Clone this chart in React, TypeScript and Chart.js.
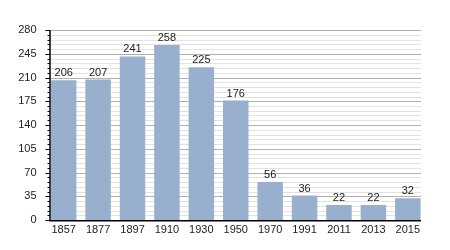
import React, { useEffect, useRef } from "react";
import { Chart, registerables } from "chart.js";

Chart.register(...registerables);

const years = ["1857", "1877", "1897", "1910", "1930", "1950", "1970", "1991", "2011", "2013", "2015"];
const population = [206, 207, 241, 258, 225, 176, 56, 36, 22, 22, 32];
const yMax = 280;
const majorStep = 35;
const minorStep = 7;

const FONT = "'Liberation Sans', Arial, sans-serif";

const gridPlugin = {
  id: "customGrid",
  beforeDatasetsDraw(chart: any) {
    const ctx = chart.ctx;
    const y = chart.scales.y;
    const left = 50;
    const right = 421;
    ctx.save();
    for (let v = 0; v <= yMax; v += minorStep) {
      const py = Math.round(y.getPixelForValue(v)) + 0.5;
      const major = v % majorStep === 0;
      ctx.strokeStyle = major ? "#b0b0b0" : "#e2e2e2";
      ctx.lineWidth = 1;
      ctx.beginPath();
      ctx.moveTo(left, py);
      ctx.lineTo(right, py);
      ctx.stroke();
      ctx.strokeStyle = "#000";
      ctx.beginPath();
      ctx.moveTo(major ? 45.5 : 47.5, py);
      ctx.lineTo(left, py);
      ctx.stroke();
    }
    ctx.restore();
  },
  afterDatasetsDraw(chart: any) {
    const ctx = chart.ctx;
    const y = chart.scales.y;
    const top = y.getPixelForValue(yMax);
    const bottom = y.getPixelForValue(0);
    ctx.save();
    ctx.strokeStyle = "#000";
    ctx.lineWidth = 1.5;
    ctx.beginPath();
    ctx.moveTo(50, top);
    ctx.lineTo(50, bottom + 0.75);
    ctx.lineTo(421, bottom + 0.75);
    ctx.stroke();
    // value labels
    const meta = chart.getDatasetMeta(0);
    ctx.fillStyle = "#222";
    ctx.font = `11px ${FONT}`;
    ctx.textAlign = "center";
    ctx.textBaseline = "alphabetic";
    meta.data.forEach((bar: any, i: number) => {
      ctx.fillText(String(population[i]), bar.x, bar.y - 4);
    });
    ctx.restore();
  },
};

export default function App() {
  const ref = useRef<HTMLCanvasElement>(null);
  useEffect(() => {
    if (!ref.current) return;
    const chart = new Chart(ref.current, {
      type: "bar",
      data: {
        labels: years,
        datasets: [
          {
            data: population,
            backgroundColor: "#98b0cd",
            borderWidth: 0,
            barPercentage: 0.74,
            categoryPercentage: 1,
          },
        ],
      },
      options: {
        animation: false,
        responsive: false,
        maintainAspectRatio: false,
        layout: { padding: { top: 30, right: 25, left: 0, bottom: 0 } },
        plugins: { legend: { display: false }, tooltip: { enabled: false } },
        scales: {
          x: {
            grid: { display: false, drawTicks: false },
            border: { display: false },
            ticks: {
              color: "#222",
              font: { family: FONT, size: 11 },
              padding: 3,
              maxRotation: 0,
              autoSkip: false,
            },
            afterFit: (s: any) => {
              s.height = 30;
            },
          },
          y: {
            min: 0,
            max: yMax,
            grid: { display: false, drawTicks: false },
            border: { display: false },
            ticks: {
              stepSize: majorStep,
              color: "#222",
              font: { family: FONT, size: 11 },
              padding: 10,
            },
            afterFit: (s: any) => {
              s.width = 46.5;
            },
          },
        },
      },
      plugins: [gridPlugin],
    });
    return () => chart.destroy();
  }, []);
  return (
    <div style={{ position: "fixed", left: 0, top: 0, width: 450, height: 250, background: "#fff" }}>
      <canvas ref={ref} width={450} height={250} style={{ width: 450, height: 250 }} />
    </div>
  );
}
